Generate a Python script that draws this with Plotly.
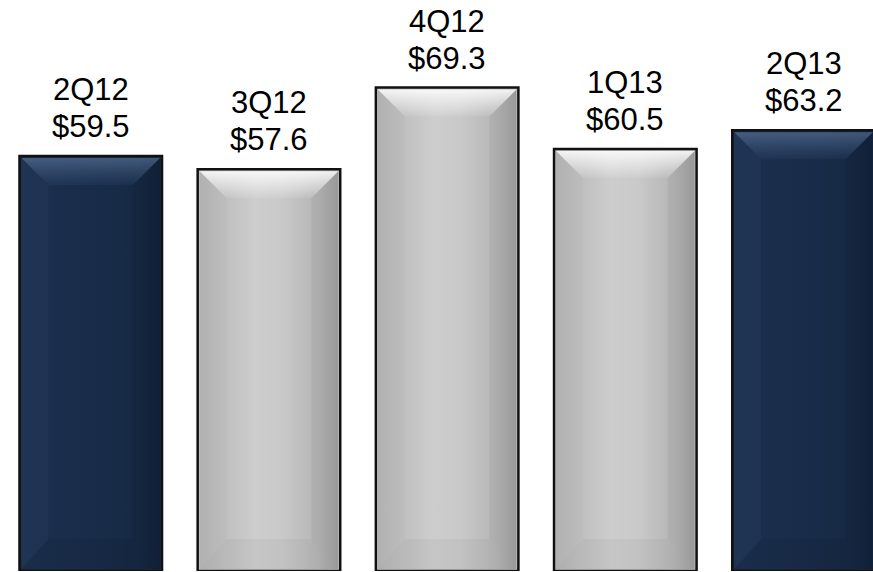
import plotly.graph_objects as go

# Quarterly revenue ($)
quarters = ["2Q12", "3Q12", "4Q12", "1Q13", "2Q13"]
revenue = [59.5, 57.6, 69.3, 60.5, 63.2]

# Styling
NAVY = "navy"
GREY = "grey"
bar_style = [NAVY, GREY, GREY, GREY, NAVY]

W, H = 873, 572
MARGIN_B = 1
X_MIN, X_MAX = -0.5093, 4.390
Y_MAX = 81.86
BAR_W = 0.8

px_x = W / (X_MAX - X_MIN)            # pixels per category unit
px_y = (H - MARGIN_B) / Y_MAX          # pixels per value unit

INSET_PX = 2.0
BEVEL_TOP_PX = 27.0
BEVEL_SIDE_PX = 27.0
BEVEL_BOT_PX = 30.0

palette = {
    NAVY: dict(
        base="#182b49",
        face=[[0, "#1b304f"], [0.45, "#192c4a"], [0.85, "#162944"], [1, "#12223b"]],
        top=[[0, "rgba(110,140,180,0.50)"], [1, "rgba(90,120,160,0.08)"]],
        left="rgba(255,255,255,0.025)",
        right="rgba(0,0,0,0.07)",
        bottom="rgba(0,0,0,0.06)",
    ),
    GREY: dict(
        base="#c4c4c4",
        face=[[0, "#b4b4b4"], [0.4, "#cdcdcd"], [0.6, "#c9c9c9"], [0.85, "#b5b5b5"], [1, "#a0a0a0"]],
        top=[[0, "rgba(255,255,255,0.85)"], [1, "rgba(255,255,255,0.06)"]],
        left="rgba(0,0,0,0.015)",
        right="rgba(0,0,0,0.04)",
        bottom="rgba(0,0,0,0.03)",
    ),
}

fig = go.Figure()

# Base bars with dark outline
fig.add_trace(go.Bar(
    x=list(range(len(quarters))),
    y=revenue,
    width=BAR_W,
    marker=dict(
        color=[palette[s]["base"] for s in bar_style],
        line=dict(color="#111111", width=2.5),
    ),
    hoverinfo="skip",
    showlegend=False,
))


def poly(xs, ys, **kw):
    fig.add_trace(go.Scatter(
        x=xs + [xs[0]], y=ys + [ys[0]],
        mode="lines", line=dict(width=0),
        fill="toself", hoverinfo="skip", showlegend=False, **kw,
    ))


ix = INSET_PX / px_x
iy = INSET_PX / px_y
bx = BEVEL_SIDE_PX / px_x
bt = BEVEL_TOP_PX / px_y
bb = BEVEL_BOT_PX / px_y

for i, (v, s) in enumerate(zip(revenue, bar_style)):
    p = palette[s]
    xl, xr = i - BAR_W / 2 + ix, i + BAR_W / 2 - ix
    yb, yt = 0 + iy, v - iy

    # face with horizontal shading
    poly([xl, xr, xr, xl], [yb, yb, yt, yt],
         fillgradient=dict(type="horizontal", colorscale=p["face"], start=xl, stop=xr))
    # left facet
    poly([xl, xl + bx, xl + bx, xl], [yt, yt - bt, yb + bb, yb], fillcolor=p["left"])
    # right facet
    poly([xr, xr, xr - bx, xr - bx], [yt, yb, yb + bb, yt - bt], fillcolor=p["right"])
    # bottom facet
    poly([xl, xl + bx, xr - bx, xr], [yb, yb + bb, yb + bb, yb], fillcolor=p["bottom"])
    # top facet with highlight
    poly([xl, xr, xr - bx, xl + bx], [yt, yt, yt - bt, yt - bt],
         fillgradient=dict(type="vertical", colorscale=[[0, p["top"][1][1]], [1, p["top"][0][1]]],
                           start=yt - bt, stop=yt))

# Labels: quarter name and value above each bar
FONT = dict(family="Arial, Liberation Sans, sans-serif", size=31, color="#000000")
for i, (q, v) in enumerate(zip(quarters, revenue)):
    fig.add_annotation(x=i, y=v, text=q, showarrow=False, yanchor="bottom",
                       yshift=47, font=FONT)
    fig.add_annotation(x=i, y=v, text=f"${v:.1f}", showarrow=False, yanchor="bottom",
                       yshift=10, font=FONT)

fig.update_layout(
    width=W, height=H,
    margin=dict(l=0, r=0, t=0, b=MARGIN_B),
    paper_bgcolor="white", plot_bgcolor="white",
    xaxis=dict(range=[X_MIN, X_MAX], visible=False, fixedrange=True),
    yaxis=dict(range=[0, Y_MAX], visible=False, fixedrange=True),
    bargap=0.2,
)

fig.write_html("out.html")
